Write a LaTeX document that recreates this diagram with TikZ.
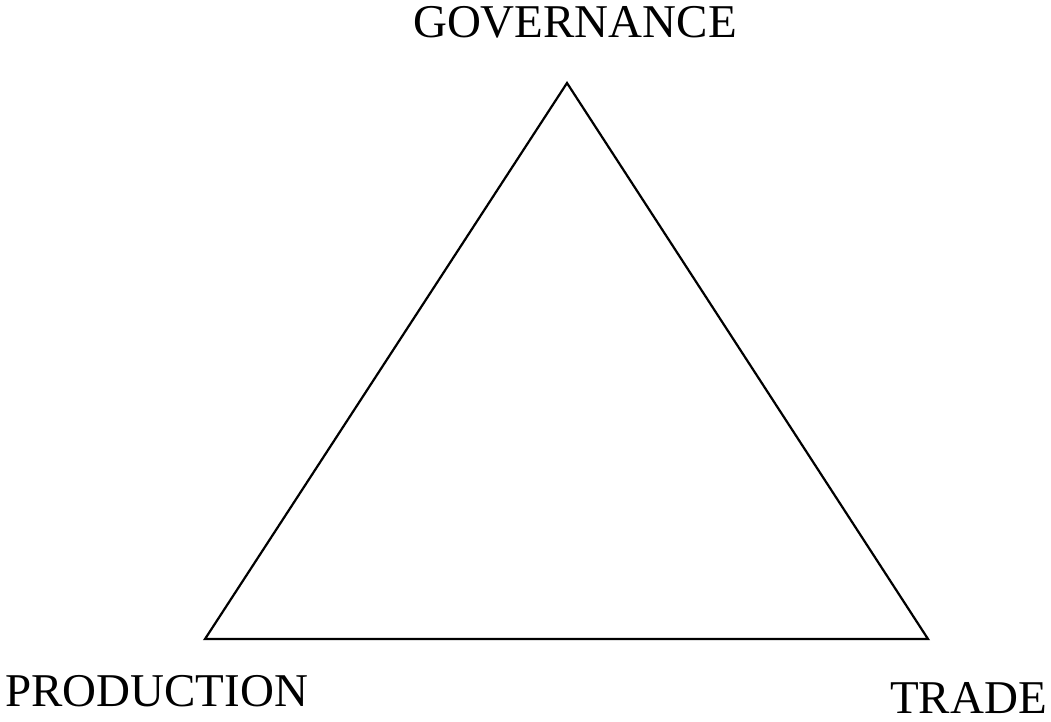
\documentclass[tikz,border=0pt]{standalone}
\usepackage{fontspec}
\setmainfont{Liberation Serif}
\begin{document}
\begin{tikzpicture}[x=1pt,y=-1pt,
  lbl/.style={inner sep=0pt,font=\fontsize{47}{50}\selectfont},
  edge/.style={draw=black,line width=2.2pt,line join=miter}]
\useasboundingbox (0,0) rectangle (1051,721);
\coordinate (g) at (567,83);
\coordinate (p) at (205,639);
\coordinate (t) at (928,639);
\draw[edge] (g) -- (t) -- (p) -- cycle;
\node[lbl,anchor=base] (gov) at (575,37) {GOVERNANCE};
\node[lbl,anchor=base west] (prod) at (5,706) {PRODUCTION};
\node[lbl,anchor=base east] (trade) at (1047,713) {TRADE};
\end{tikzpicture}
\end{document}
